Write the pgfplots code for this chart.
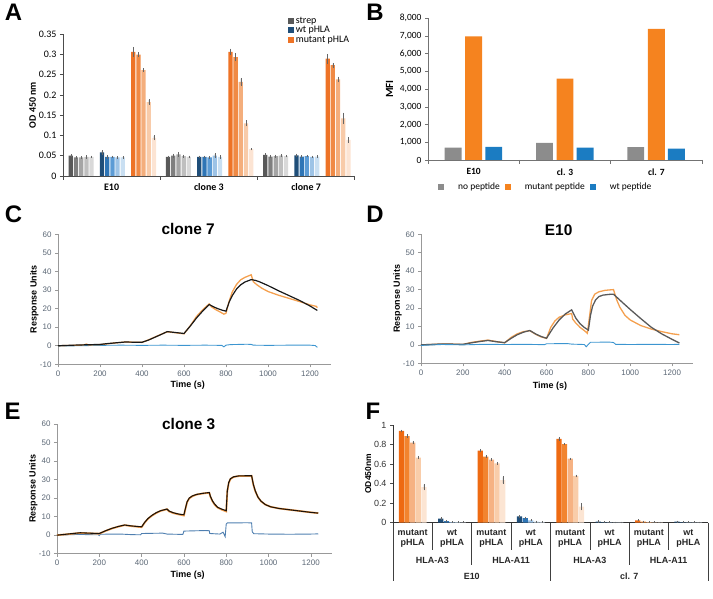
\documentclass[border=0pt]{standalone}
\usepackage{pgfplots}
\pgfplotsset{compat=1.18}
\usepackage{fontspec}
\setmainfont{Liberation Sans}
\newfontfamily\calibri{Carlito}

\definecolor{ag0}{HTML}{595959}
\definecolor{ag1}{HTML}{7F7F7F}
\definecolor{ag2}{HTML}{A5A5A5}
\definecolor{ag3}{HTML}{BFBFBF}
\definecolor{ag4}{HTML}{D9D9D9}
\definecolor{ab0}{HTML}{1F4E79}
\definecolor{ab1}{HTML}{2E75B6}
\definecolor{ab2}{HTML}{5B9BD5}
\definecolor{ab3}{HTML}{9DC3E6}
\definecolor{ab4}{HTML}{C9DFF2}
\definecolor{ao0}{HTML}{EE7326}
\definecolor{ao1}{HTML}{F08A45}
\definecolor{ao2}{HTML}{F4AE7C}
\definecolor{ao3}{HTML}{F8CBA9}
\definecolor{ao4}{HTML}{FCE4D3}
\definecolor{bgray}{HTML}{8C8C8C}
\definecolor{borange}{HTML}{F5831F}
\definecolor{bblue}{HTML}{1B7CC2}
\definecolor{fo0}{HTML}{EE6A12}
\definecolor{fo1}{HTML}{F2842F}
\definecolor{fo2}{HTML}{F6B283}
\definecolor{fo3}{HTML}{F9CDAA}
\definecolor{fo4}{HTML}{FCE5D3}
\definecolor{fb0}{HTML}{1F4E79}
\definecolor{fb1}{HTML}{2E75B6}
\definecolor{fb2}{HTML}{9DC3E6}
\definecolor{fb3}{HTML}{C5DCEF}
\definecolor{fb4}{HTML}{DEEBF7}
\definecolor{tickc}{HTML}{5B6775}
\definecolor{dorange}{HTML}{F4A04F}
\definecolor{cblue}{HTML}{3C95D0}
\definecolor{eblue}{HTML}{4F7FB0}

\pgfplotsset{
  /pgf/number format/assume math mode=true,
  abar/.style={ybar, bar shift=0pt, bar width=0.82, draw=none, fill=#1,
    /pgfplots/error bars/y dir=both, /pgfplots/error bars/y explicit,
    /pgfplots/error bars/error bar style={black!60, line width=0.35pt},
    /pgfplots/error bars/error mark options={black!60, mark size=0.8pt, line width=0.35pt}},
  fbar/.style={ybar, bar shift=0pt, bar width=0.92, draw=none, fill=#1,
    /pgfplots/error bars/y dir=both, /pgfplots/error bars/y explicit,
    /pgfplots/error bars/error bar style={black!60, line width=0.35pt},
    /pgfplots/error bars/error mark options={black!60, mark size=0.8pt, line width=0.35pt}},
  sprstyle/.style={scale only axis, xmin=0, xmax=1300, ymin=-10, ymax=60,
    xtick={0,200,400,600,800,1000,1200}, ytick={-10,0,10,20,30,40,50,60},
    axis x line*=bottom, axis y line*=left,
    axis line style={black!40, line width=0.6pt},
    tick style={black!40, line width=0.6pt}, tick align=outside, major tick length=3bp,
    tick label style={font=\fontsize{8}{9}\selectfont, text=tickc},
    /pgf/number format/1000 sep={},
    xlabel={Time (s)}, ylabel={Response Units},
    label style={font=\bfseries\fontsize{9}{10}\selectfont},
    title style={font=\bfseries\fontsize{15.5}{16}\selectfont, anchor=center, yshift=0pt},
    clip=false},
}

\begin{document}
\begin{tikzpicture}
\useasboundingbox (0bp,0bp) rectangle (713bp,599bp);

% panel letters
\node[font=\bfseries\fontsize{24}{24}\selectfont] at (13.5bp,586.5bp) {A};
\node[font=\bfseries\fontsize{24}{24}\selectfont] at (375bp,586.5bp) {B};
\node[font=\bfseries\fontsize{24}{24}\selectfont] at (13.5bp,385bp) {C};
\node[font=\bfseries\fontsize{24}{24}\selectfont] at (375bp,385bp) {D};
\node[font=\bfseries\fontsize{24}{24}\selectfont] at (12.5bp,187.5bp) {E};
\node[font=\bfseries\fontsize{24}{24}\selectfont] at (373bp,187.5bp) {F};

% ================= Panel A =================
\begin{axis}[
  at={(63bp,423bp)}, anchor=south west, scale only axis,
  width=291.7bp, height=142bp,
  xmin=0, xmax=56.1, ymin=0, ymax=0.35,
  axis x line*=bottom, axis y line*=left,
  axis line style={black!70, line width=0.6pt},
  clip=false,
  ytick={0,0.05,0.1,0.15,0.2,0.25,0.3,0.35},
  yticklabel style={/pgf/number format/fixed, /pgf/number format/precision=2},
  scaled y ticks=false,
  ytick style={black!70, line width=0.6pt},
  tick align=outside, major tick length=3bp,
  xtick={9.35,28.05,46.75}, xticklabels={E10,clone 3,clone 7},
  xtick style={draw=none},
  tick label style={font=\calibri\fontsize{10}{12}\selectfont},
  xticklabel style={font=\calibri\bfseries\fontsize{10}{12}\selectfont, yshift=-1bp},
  ylabel={OD 450 nm},
  ylabel style={at={(axis description cs:-0.104,0.5)}, anchor=center, font=\calibri\bfseries\fontsize{10}{12}\selectfont},
  legend style={at={(axis description cs:0.77,1.135)}, anchor=north west, draw=none, fill=none,
    font=\calibri\fontsize{10}{12}\selectfont, row sep=-2.5bp, inner sep=0bp, cells={anchor=west}},
  legend image code/.code={\draw[#1,draw=none] (0bp,-3bp) rectangle (6bp,3bp);},
]
\addplot[abar=ag0] coordinates {(1.5,0.050) +- (0,0.002) (20.2,0.047) +- (0,0.001) (38.9,0.052) +- (0,0.002)};
\addlegendentry{strep}
\addplot[abar=ab0] coordinates {(7.5,0.058) +- (0,0.004) (26.2,0.047) +- (0,0.001) (44.9,0.051) +- (0,0.002)};
\addlegendentry{wt pHLA}
\addplot[abar=ao0] coordinates {(13.5,0.306) +- (0,0.010) (32.2,0.306) +- (0,0.006) (50.9,0.289) +- (0,0.010)};
\addlegendentry{mutant pHLA}
\addplot[forget plot, abar=ag1] coordinates {(2.5,0.046) +- (0,0.001) (21.2,0.050) +- (0,0.003) (39.9,0.048) +- (0,0.002)};
\addplot[forget plot, abar=ag2] coordinates {(3.5,0.046) +- (0,0.001) (22.2,0.053) +- (0,0.004) (40.9,0.049) +- (0,0.002)};
\addplot[forget plot, abar=ag3] coordinates {(4.5,0.047) +- (0,0.002) (23.2,0.049) +- (0,0.002) (41.9,0.050) +- (0,0.002)};
\addplot[forget plot, abar=ag4] coordinates {(5.5,0.047) +- (0,0.001) (24.2,0.047) +- (0,0.001) (42.9,0.049) +- (0,0.001)};
\addplot[forget plot, abar=ab1] coordinates {(8.5,0.047) +- (0,0.002) (27.2,0.047) +- (0,0.001) (45.9,0.048) +- (0,0.001)};
\addplot[forget plot, abar=ab2] coordinates {(9.5,0.047) +- (0,0.001) (28.2,0.046) +- (0,0.001) (46.9,0.049) +- (0,0.001)};
\addplot[forget plot, abar=ab3] coordinates {(10.5,0.046) +- (0,0.001) (29.2,0.050) +- (0,0.004) (47.9,0.047) +- (0,0.001)};
\addplot[forget plot, abar=ab4] coordinates {(11.5,0.046) +- (0,0.001) (30.2,0.047) +- (0,0.002) (48.9,0.048) +- (0,0.001)};
\addplot[forget plot, abar=ao1] coordinates {(14.5,0.299) +- (0,0.004) (33.2,0.293) +- (0,0.008) (51.9,0.273) +- (0,0.004)};
\addplot[forget plot, abar=ao2] coordinates {(15.5,0.261) +- (0,0.003) (34.2,0.232) +- (0,0.008) (52.9,0.238) +- (0,0.005)};
\addplot[forget plot, abar=ao3] coordinates {(16.5,0.182) +- (0,0.005) (35.2,0.130) +- (0,0.006) (53.9,0.142) +- (0,0.012)};
\addplot[forget plot, abar=ao4] coordinates {(17.5,0.094) +- (0,0.004) (36.2,0.066) +- (0,0.001) (54.9,0.089) +- (0,0.005)};
\draw[black!70, line width=0.6pt] (axis cs:18.7,0) -- ++(0bp,-4bp);
\draw[black!70, line width=0.6pt] (axis cs:37.4,0) -- ++(0bp,-4bp);
\draw[black!70, line width=0.6pt] (axis cs:56.1,0) -- ++(0bp,-4bp);
\draw[black!70, line width=0.6pt] (axis cs:0,0) -- ++(0bp,-4bp);
\end{axis}

% ================= Panel B =================
\begin{axis}[
  at={(428bp,439bp)}, anchor=south west, scale only axis,
  width=274bp, height=141.7bp,
  xmin=0, xmax=3, ymin=0, ymax=8000,
  axis x line*=bottom, axis y line*=left,
  axis line style={black!55, line width=0.6pt},
  clip=false,
  ytick={0,1000,2000,3000,4000,5000,6000,7000,8000},
  scaled y ticks=false,
  /pgf/number format/1000 sep={,},
  ytick style={black!55, line width=0.6pt},
  tick align=outside, major tick length=3bp,
  xtick={0.5,1.5,2.5}, xticklabels={E10,cl. 3,cl. 7},
  xtick style={draw=none},
  tick label style={font=\calibri\fontsize{9.5}{11}\selectfont},
  xticklabel style={font=\calibri\bfseries\fontsize{9.5}{11}\selectfont, yshift=-2bp},
  ylabel={MFI},
  ylabel style={at={(axis description cs:-0.14,0.5)}, anchor=center, font=\calibri\bfseries\fontsize{11}{12}\selectfont},
  legend columns=3,
  legend style={at={(axis description cs:0.43,-0.19)}, anchor=center, draw=none, fill=none,
    font=\calibri\fontsize{9.5}{11}\selectfont, inner sep=0bp,
    /tikz/every even column/.append style={column sep=3bp},
    /tikz/every odd column/.append style={column sep=12bp}},
  legend image code/.code={\draw[#1,draw=none] (0bp,-3bp) rectangle (6bp,3bp);},
]
\addplot[ybar, bar shift=0pt, bar width=0.185, draw=none, fill=bgray] coordinates {(0.275,700) (1.275,960) (2.275,720)};
\addlegendentry{no peptide}
\addplot[ybar, bar shift=0pt, bar width=0.185, draw=none, fill=borange] coordinates {(0.5,6980) (1.5,4600) (2.5,7400)};
\addlegendentry{mutant peptide}
\addplot[ybar, bar shift=0pt, bar width=0.185, draw=none, fill=bblue] coordinates {(0.72,740) (1.72,700) (2.72,640)};
\addlegendentry{wt peptide}
\draw[black!55, line width=0.6pt] (axis cs:0,0) -- ++(0bp,-4bp);
\draw[black!55, line width=0.6pt] (axis cs:1,0) -- ++(0bp,-4bp);
\draw[black!55, line width=0.6pt] (axis cs:2,0) -- ++(0bp,-4bp);
\draw[black!55, line width=0.6pt] (axis cs:3,0) -- ++(0bp,-4bp);
\end{axis}

% ================= Panel C =================
\begin{axis}[sprstyle,
  at={(58bp,234.7bp)}, anchor=south west, width=273bp, height=130bp,
  xlabel style={at={(axis description cs:0.475,-0.16)}, anchor=center},
  ylabel style={at={(axis description cs:-0.087,0.5)}, anchor=center},
  title={clone 7}, title style={at={(axis description cs:0.477,0.995)}},
]
\addplot[cblue, line width=0.9pt] coordinates {(0,-0.2)(100,0.0)(200,0.2)(300,0.3)(400,0.2)(500,0.3)(600,0.2)(700,0.3)(780,0.2)(790,-0.6)(800,0.3)(820,0.6)(900,0.8)(920,0.7)(930,0.3)(1000,0.2)(1100,0.3)(1200,0.3)(1225,0.1)(1235,-0.9)};
\addplot[dorange, line width=1.3pt] coordinates {(0,0)(50,0.1)(100,0.3)(125,0.5)(135,0.9)(145,0.4)(200,0.6)(240,1.1)(280,1.6)(320,2.0)(360,1.9)(400,1.8)(430,3.1)(460,4.6)(490,6.1)(520,7.5)(560,7.0)(600,6.4)(630,10.8)(660,15.8)(690,19.5)(720,22.5)(730,21.0)(750,19.5)(770,18.3)(790,17.0)(800,17.5)(815,24.0)(830,29.0)(850,33.0)(870,35.5)(890,36.8)(920,38.2)(930,34.5)(945,33.0)(970,31.0)(1000,29.2)(1050,27.2)(1100,25.5)(1150,23.8)(1200,22.0)(1230,21.2)(1235,20.5)};
\addplot[black!90, line width=1.2pt] coordinates {(0,0)(50,0.2)(100,0.4)(150,0.55)(200,0.7)(240,1.2)(280,1.6)(320,2.0)(360,1.9)(400,1.85)(430,3.0)(460,4.5)(490,6.0)(520,7.6)(560,7.1)(600,6.6)(630,10.6)(660,15.0)(690,18.8)(720,22.2)(740,21.0)(760,20.0)(780,19.2)(800,18.6)(815,23.5)(830,27.0)(850,30.5)(870,32.8)(890,34.3)(920,35.6)(940,35.2)(960,34.4)(1000,32.4)(1050,29.6)(1100,27.0)(1150,24.4)(1200,21.4)(1235,19.0)};
\end{axis}

% ================= Panel D =================
\begin{axis}[sprstyle,
  at={(421bp,235.7bp)}, anchor=south west, width=272bp, height=129bp,
  xlabel style={at={(axis description cs:0.474,-0.18)}, anchor=center},
  ylabel style={at={(axis description cs:-0.086,0.5)}, anchor=center},
  title={E10}, title style={at={(axis description cs:0.506,0.985)}},
]
\addplot[dorange, line width=1.3pt] coordinates {(0,0)(100,0.4)(150,0.4)(200,0.2)(240,1.3)(280,2.0)(320,2.6)(360,1.8)(400,1.1)(430,4.0)(460,6.0)(490,7.2)(520,7.7)(550,5.6)(575,4.3)(600,3.5)(620,9.5)(640,13.0)(660,15.0)(690,16.3)(720,17.0)(725,14.0)(740,11.8)(760,9.5)(780,7.8)(795,6.3)(805,15.0)(815,24.0)(830,27.5)(850,28.8)(880,29.6)(920,30.0)(935,24.5)(950,20.5)(975,16.0)(1000,13.5)(1050,10.5)(1100,8.6)(1150,7.2)(1200,6.0)(1235,5.5)};
\addplot[black!65, line width=1.3pt] coordinates {(0,0)(100,0.5)(150,0.4)(200,0.3)(240,1.1)(280,1.8)(320,2.4)(360,1.7)(400,1.2)(430,3.5)(460,5.5)(490,6.9)(520,7.8)(550,5.8)(575,4.5)(600,3.6)(630,9.0)(660,13.5)(690,16.8)(720,19.0)(740,14.5)(760,11.5)(780,9.5)(800,8.0)(810,16.0)(820,21.0)(835,24.5)(850,26.2)(870,27.0)(900,27.4)(920,27.5)(940,25.4)(960,23.3)(1000,19.2)(1050,14.3)(1100,9.6)(1150,6.0)(1200,3.0)(1235,1.0)};
\addplot[cblue, line width=0.9pt] coordinates {(0,-0.3)(100,0.2)(200,0.0)(300,0.3)(400,0.2)(500,0.3)(590,0.1)(600,0.6)(700,0.7)(720,0.4)(780,0.2)(790,-1.0)(800,0.3)(810,1.4)(900,1.5)(920,1.3)(930,0.3)(1000,0.2)(1100,0.3)(1200,0.2)(1235,0.3)};
\end{axis}

% ================= Panel E =================
\begin{axis}[sprstyle,
  at={(57bp,45.3bp)}, anchor=south west, width=275bp, height=129.7bp,
  xlabel style={at={(axis description cs:0.475,-0.167)}, anchor=center},
  ylabel style={at={(axis description cs:-0.086,0.5)}, anchor=center},
  title={clone 3}, title style={at={(axis description cs:0.479,0.955)}},
]
\addplot[eblue, line width=0.9pt] coordinates {(0,0.0)(100,0.4)(195,0.2)(200,-0.2)(205,0.5)(300,0.6)(350,0.3)(395,0.2)(400,0.9)(500,1.1)(520,0.6)(595,0.4)(600,2.2)(700,2.5)(720,2.4)(722,0.9)(770,0.6)(785,1.6)(795,-0.8)(800,6.0)(805,6.6)(900,6.7)(920,6.6)(923,1.8)(930,0.8)(1000,0.6)(1100,0.5)(1200,0.6)(1235,0.7)};
\addplot[dorange, line width=1.8pt] coordinates {(0,0)(50,0.5)(110,1.2)(150,1.0)(200,0.8)(230,2.3)(260,3.6)(290,4.6)(320,5.4)(350,4.9)(400,4.3)(415,6.8)(430,8.8)(450,10.6)(470,12.0)(490,13.1)(520,14.0)(530,12.8)(550,11.9)(575,11.2)(600,10.6)(606,13.6)(615,17.8)(625,19.8)(640,21.0)(660,21.9)(690,22.5)(720,22.9)(725,20.8)(735,18.3)(745,16.5)(760,14.8)(780,13.7)(800,12.8)(805,23.5)(812,28.2)(820,30.3)(835,31.4)(860,31.9)(920,32.0)(928,27.3)(937,23.8)(950,20.5)(965,18.2)(985,16.5)(1010,15.3)(1050,14.4)(1100,13.7)(1150,13.0)(1200,12.3)(1235,11.9)};
\addplot[black!85!brown, line width=1.1pt] coordinates {(0,0)(50,0.6)(110,1.3)(150,1.1)(200,0.9)(230,2.4)(260,3.7)(290,4.7)(320,5.5)(350,5.0)(400,4.5)(415,7.0)(430,9.0)(450,10.8)(470,12.2)(490,13.2)(520,14.1)(530,13.0)(550,12.1)(575,11.4)(600,11.0)(606,14.0)(615,18.0)(625,20.0)(640,21.2)(660,22.0)(690,22.6)(720,23.0)(725,21.0)(735,18.5)(745,16.8)(760,15.0)(780,14.0)(800,13.2)(805,24.0)(812,28.5)(820,30.5)(835,31.5)(860,32.0)(920,32.1)(928,27.5)(937,24.0)(950,20.5)(965,18.3)(985,16.5)(1010,15.3)(1050,14.4)(1100,13.7)(1150,13.0)(1200,12.3)(1235,11.9)};
\end{axis}

% ================= Panel F =================
\begin{axis}[
  at={(393bp,76.3bp)}, anchor=south west, scale only axis,
  width=315bp, height=97.7bp,
  xmin=0, xmax=56, ymin=0, ymax=1,
  axis x line*=bottom, axis y line*=left,
  axis line style={black!80, line width=0.6pt},
  xtick=\empty, ytick={0,0.2,0.4,0.6,0.8,1},
  ytick style={black!70, line width=0.6pt}, tick align=outside, major tick length=3bp,
  yticklabel style={font=\fontsize{9}{10}\selectfont, text=black!80},
  ylabel={OD450nm},
  ylabel style={at={(axis description cs:-0.079,0.5)}, anchor=center, font=\bfseries\fontsize{8.5}{10}\selectfont},
  clip=false,
]
\addplot[fbar=fo0] coordinates {(1.5,0.939) +- (0,0.005) (15.5,0.737) +- (0,0.01) (29.5,0.857) +- (0,0.012) (43.5,0.024) +- (0,0.002)};
\addplot[fbar=fo1] coordinates {(2.5,0.887) +- (0,0.01) (16.5,0.676) +- (0,0.004) (30.5,0.805) +- (0,0.005) (44.5,0.010) +- (0,0.002)};
\addplot[fbar=fo2] coordinates {(3.5,0.819) +- (0,0.01) (17.5,0.645) +- (0,0.004) (31.5,0.655) +- (0,0.003) (45.5,0.005) +- (0,0.001)};
\addplot[fbar=fo3] coordinates {(4.5,0.666) +- (0,0.01) (18.5,0.608) +- (0,0.005) (32.5,0.478) +- (0,0.005) (46.5,0.004) +- (0,0.001)};
\addplot[fbar=fo4] coordinates {(5.5,0.365) +- (0,0.025) (19.5,0.435) +- (0,0.03) (33.5,0.165) +- (0,0.03) (47.5,0.003) +- (0,0.001)};
\addplot[fbar=fb0] coordinates {(8.5,0.041) +- (0,0.005) (22.5,0.065) +- (0,0.006) (36.5,0.012) +- (0,0.003) (50.5,0.010) +- (0,0.002)};
\addplot[fbar=fb1] coordinates {(9.5,0.017) +- (0,0.003) (23.5,0.048) +- (0,0.005) (37.5,0.004) +- (0,0.001) (51.5,0.004) +- (0,0.001)};
\addplot[fbar=fb2] coordinates {(10.5,0.007) +- (0,0.002) (24.5,0.024) +- (0,0.003) (38.5,0.004) +- (0,0.001) (52.5,0.004) +- (0,0.001)};
\addplot[fbar=fb3] coordinates {(11.5,0.005) +- (0,0.001) (25.5,0.010) +- (0,0.002) (39.5,0.003) +- (0,0.001) (53.5,0.004) +- (0,0.001)};
\addplot[fbar=fb4] coordinates {(12.5,0.004) +- (0,0.001) (26.5,0.008) +- (0,0.002) (40.5,0.003) +- (0,0.001) (54.5,0.003) +- (0,0.001)};
\end{axis}

% Panel F category lines and labels
\foreach \g/\len in {0/58.7,1/27.7,2/42.7,3/27.7,4/58.7,5/27.7,6/42.7,7/27.7,8/58.7}
  \draw[black!75, line width=0.7pt] ({(393+\g*39.375)*1bp},76.3bp) -- ++(0bp,{-\len*1bp});
\foreach \g in {0,2,4,6}
  \node[align=center, font=\bfseries\fontsize{9}{10}\selectfont, text=black!85] at ({(393+(\g+0.5)*39.375)*1bp},60.5bp) {mutant\\pHLA};
\foreach \g in {1,3,5,7}
  \node[align=center, font=\bfseries\fontsize{9}{10}\selectfont, text=black!85] at ({(393+(\g+0.5)*39.375)*1bp},60.5bp) {wt\\pHLA};
\foreach \h/\t in {0/HLA-A3,1/HLA-A11,2/HLA-A3,3/HLA-A11}
  \node[font=\bfseries\fontsize{9}{10}\selectfont, text=black!85] at ({(393+(2*\h+1)*39.375)*1bp},39bp) {\t};
\node[font=\bfseries\fontsize{9}{10}\selectfont, text=black!85] at ({(393+2*39.375)*1bp},23bp) {E10};
\node[font=\bfseries\fontsize{9}{10}\selectfont, text=black!85] at ({(393+6*39.375)*1bp},23bp) {cl. 7};

\end{tikzpicture}
\end{document}
